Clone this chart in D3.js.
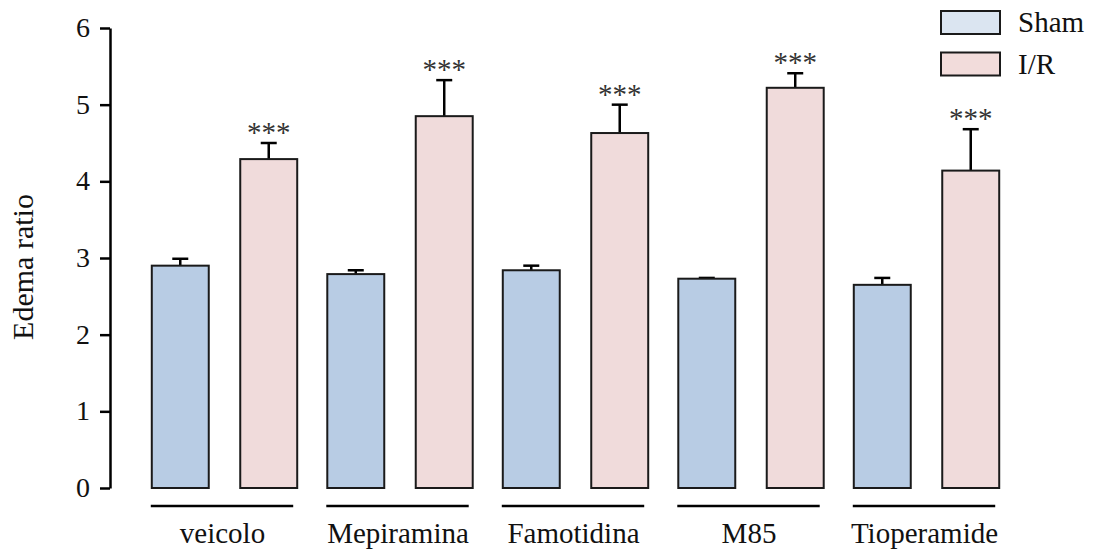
<!DOCTYPE html>
<html>
<head>
<meta charset="utf-8">
<script src="https://cdn.jsdelivr.net/npm/d3@7"></script>
<style>
  body { margin: 0; background: #fff; }
  svg { display: block; font-family: "Liberation Serif", "Times New Roman", serif; }
</style>
</head>
<body>
<div id="chart"></div>
<script>
// data
const groups = ['veicolo', 'Mepiramina', 'Famotidina', 'M85', 'Tioperamide'];
const series = ['Sham', 'I/R'];
const shamMean = [2.90, 2.79, 2.84, 2.73, 2.65];
const shamErr  = [0.09, 0.05, 0.06, 0.01, 0.09];
const irMean   = [4.29, 4.85, 4.63, 5.22, 4.14];
const irErr    = [0.21, 0.47, 0.37, 0.19, 0.54];
const irStars  = ['***', '***', '***', '***', '***'];
const yTicks   = [0, 1, 2, 3, 4, 5, 6];

const width = 1094, height = 552;

const svg = d3.select('#chart').append('svg')
    .attr('width', width)
    .attr('height', height);

const y = d3.scaleLinear().domain([0, 6]).range([488, 28]);

// group bands, then Sham / I/R inside each group
const x0 = d3.scaleBand().domain(groups).range([136.75, 1014.25]).padding(0);
const x1 = d3.scaleBand().domain(series)
    .range([0, x0.bandwidth()])
    .paddingInner(0.356)
    .paddingOuter(0.17);

const fill = { 'Sham': '#b8cce4', 'I/R': '#f0dbdb' };
const legendFill = { 'Sham': '#dbe5f1', 'I/R': '#f2dcdb' };

const rows = [];
groups.forEach((g, i) => {
    rows.push({ group: g, key: 'Sham', mean: shamMean[i], err: shamErr[i], star: '' });
    rows.push({ group: g, key: 'I/R', mean: irMean[i], err: irErr[i], star: irStars[i] });
});

// y axis
const yAxis = svg.append('g')
    .attr('transform', 'translate(110,0)')
    .call(d3.axisLeft(y).tickValues(yTicks).tickFormat(d3.format('d'))
        .tickSize(10).tickSizeOuter(0).tickPadding(10));
yAxis.select('.domain').attr('stroke', '#000').attr('stroke-width', 2.5);
yAxis.selectAll('.tick line').attr('stroke', '#000').attr('stroke-width', 2.5);
yAxis.selectAll('.tick text')
    .attr('fill', '#111')
    .attr('dy', '0.3em')
    .style('font-size', '28px')
    .style('font-family', '"Liberation Serif", "Times New Roman", serif');

svg.append('text')
    .attr('transform', 'translate(33,267) rotate(-90)')
    .attr('text-anchor', 'middle')
    .style('font-size', '30px')
    .attr('fill', '#111')
    .text('Edema ratio');

// error bars (drawn first so bars cover the lower stub)
const bw = x1.bandwidth();
const eb = svg.append('g').selectAll('g')
    .data(rows)
    .enter().append('g')
    .attr('transform', d => `translate(${x0(d.group) + x1(d.key) + bw / 2},0)`);

eb.append('line')
    .attr('y1', d => y(d.mean))
    .attr('y2', d => y(d.mean + d.err))
    .attr('stroke', '#000')
    .attr('stroke-width', 2.5);

eb.append('line')
    .attr('x1', -8).attr('x2', 8)
    .attr('y1', d => y(d.mean + d.err))
    .attr('y2', d => y(d.mean + d.err))
    .attr('stroke', '#000')
    .attr('stroke-width', 2.5);

eb.append('text')
    .attr('y', d => y(d.mean + d.err) - 1)
    .attr('text-anchor', 'middle')
    .style('font-size', '29px')
    .attr('fill', '#333')
    .text(d => d.star);

// bars
svg.append('g').selectAll('rect')
    .data(rows)
    .enter().append('rect')
    .attr('x', d => x0(d.group) + x1(d.key))
    .attr('y', d => y(d.mean))
    .attr('width', bw)
    .attr('height', d => y(0) - y(d.mean))
    .attr('fill', d => fill[d.key])
    .attr('stroke', '#1a1a1a')
    .attr('stroke-width', 2);

// group underlines and labels
const gl = svg.append('g').selectAll('g')
    .data(groups)
    .enter().append('g');

gl.append('line')
    .attr('x1', g => x0(g) + x1('Sham') - 1)
    .attr('x2', g => x0(g) + x1('I/R') + bw - 4)
    .attr('y1', 506).attr('y2', 506)
    .attr('stroke', '#000')
    .attr('stroke-width', 2.5);

gl.append('text')
    .attr('x', g => x0(g) + x0.bandwidth() / 2 - 2)
    .attr('y', 543)
    .attr('text-anchor', 'middle')
    .style('font-size', '29px')
    .attr('fill', '#111')
    .text(g => g);

// legend
const lg = svg.append('g').selectAll('g')
    .data(series)
    .enter().append('g')
    .attr('transform', (d, i) => `translate(941,${11 + i * 41.5})`);

lg.append('rect')
    .attr('width', 59).attr('height', 23)
    .attr('fill', d => legendFill[d])
    .attr('stroke', '#1a1a1a')
    .attr('stroke-width', 2);

lg.append('text')
    .attr('x', 77).attr('y', 21)
    .style('font-size', '29px')
    .attr('fill', '#111')
    .text(d => d);
</script>
</body>
</html>
